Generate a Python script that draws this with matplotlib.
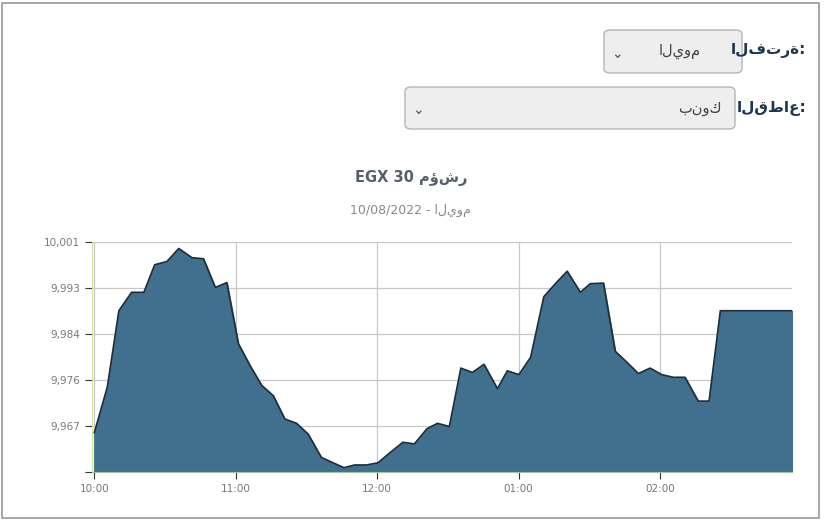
import matplotlib.pyplot as plt
from matplotlib.patches import FancyBboxPatch, Rectangle
import numpy as np

# minutes since 10:00 and index value
minutes = [0, 5.5, 10.4, 15.8, 21, 25.6, 30.8, 35.8, 41.4, 46.3, 51.3, 56.2, 61.1, 66, 71, 75.9,
           80.8, 85.8, 90.7, 96.3, 101.3, 105.9, 110.4, 115.4, 120.3, 125.2, 130.9, 135.8, 141.1,
           145.6, 150.6, 155.5, 160.4, 165.3, 171, 175.2, 180.1, 185.1, 190.7, 195.6, 200.6, 206.2,
           210.4, 216, 221, 225.9, 230.8, 235.8, 240.7, 245.6, 250.6, 256.2, 260.8, 265.6, 296]
values = [9965.9, 9974.3, 9988.4, 9991.8, 9991.8, 9996.9, 9997.5, 9999.9, 9998.2, 9998.0, 9992.7,
          9993.6, 9982.3, 9978.3, 9974.6, 9972.7, 9968.4, 9967.6, 9965.6, 9961.3, 9960.3, 9959.4,
          9959.9, 9959.9, 9960.3, 9962.1, 9964.1, 9963.8, 9966.6, 9967.6, 9967.0, 9977.8, 9977.0,
          9978.5, 9974.0, 9977.3, 9976.6, 9979.8, 9991.0, 9993.4, 9995.7, 9991.8, 9993.4, 9993.5,
          9980.9, 9978.9, 9976.8, 9977.8, 9976.6, 9976.1, 9976.1, 9971.7, 9971.7, 9988.4, 9988.4]
xtick_pos = [0, 60, 120, 180, 240]
xtick_labels = ["10:00", "11:00", "12:00", "01:00", "02:00"]
y_min, y_max = 9958.6, 10001.1
ytick_labels = ["", "9,967", "9,976", "9,984", "9,993", "10,001"]

fig = plt.figure(figsize=(8.25, 5.24), dpi=100)
plt.rcParams['font.family'] = ['DejaVu Sans']

# outer frame
fig.patches.append(Rectangle((0.003, 0.012), 0.99, 0.982, transform=fig.transFigure,
                             fill=False, edgecolor='#9a9a9a', linewidth=1.2))

ax = fig.add_axes([0.1115, 0.0992, 0.8485, 0.4390])
ax.fill_between(minutes, values, y_min, color='#41708f', zorder=2)
ax.plot(minutes, values, color='#1f2f3a', linewidth=1.2, zorder=3)
ax.set_xlim(-1, 296)
ax.set_ylim(y_min, y_max)
ax.set_xticks(xtick_pos)
ax.set_xticklabels(xtick_labels)
ax.set_yticks(np.linspace(y_min, y_max, 6))
ax.set_yticklabels(ytick_labels)
ax.grid(True, color='#c8c8c8', linewidth=0.9, zorder=1)
ax.tick_params(axis='both', labelsize=7.5, labelcolor='#777777', color='#333333', length=5)
for s in ['top', 'right']:
    ax.spines[s].set_visible(False)
ax.spines['left'].set_color('#d8e2a0')
ax.spines['bottom'].set_color('#9fc79f')

fig.text(0.498, 0.66, "EGX 30 مؤشر", ha='center', va='center', fontsize=10.5,
         fontweight='bold', color='#555f69')
fig.text(0.498, 0.598, "10/08/2022 - اليوم", ha='center', va='center', fontsize=9,
         color='#888888')

# dropdowns
def dropdown(x0, x1, y0, y1, text, tx, label, ly):
    W, H = 825, 524
    fig.patches.append(FancyBboxPatch((x0 / W, 1 - y1 / H), (x1 - x0) / W, (y1 - y0) / H,
                                      boxstyle="round,pad=0,rounding_size=0.008",
                                      transform=fig.transFigure, facecolor='#eeeeee',
                                      edgecolor='#b5b5b5', linewidth=1))
    fig.text(tx / W, 1 - (y0 + y1) / 2 / H, text, ha='center', va='center', fontsize=10.5,
             color='#444444')
    fig.text((x0 + 13) / W, 1 - (y0 + y1) / 2 / H - 0.004, "⌄", ha='center', va='center',
             fontsize=10, color='#555555')
    fig.text(806 / W, 1 - ly / H, label, ha='right', va='center', fontsize=11,
             fontweight='bold', color='#1f3550')

dropdown(604, 742, 30, 73, "اليوم", 680, "الفترة:", 51)
dropdown(405, 735, 87, 129, "بنوك", 700, "القطاع:", 108)

fig.savefig("out.png", dpi=100)
